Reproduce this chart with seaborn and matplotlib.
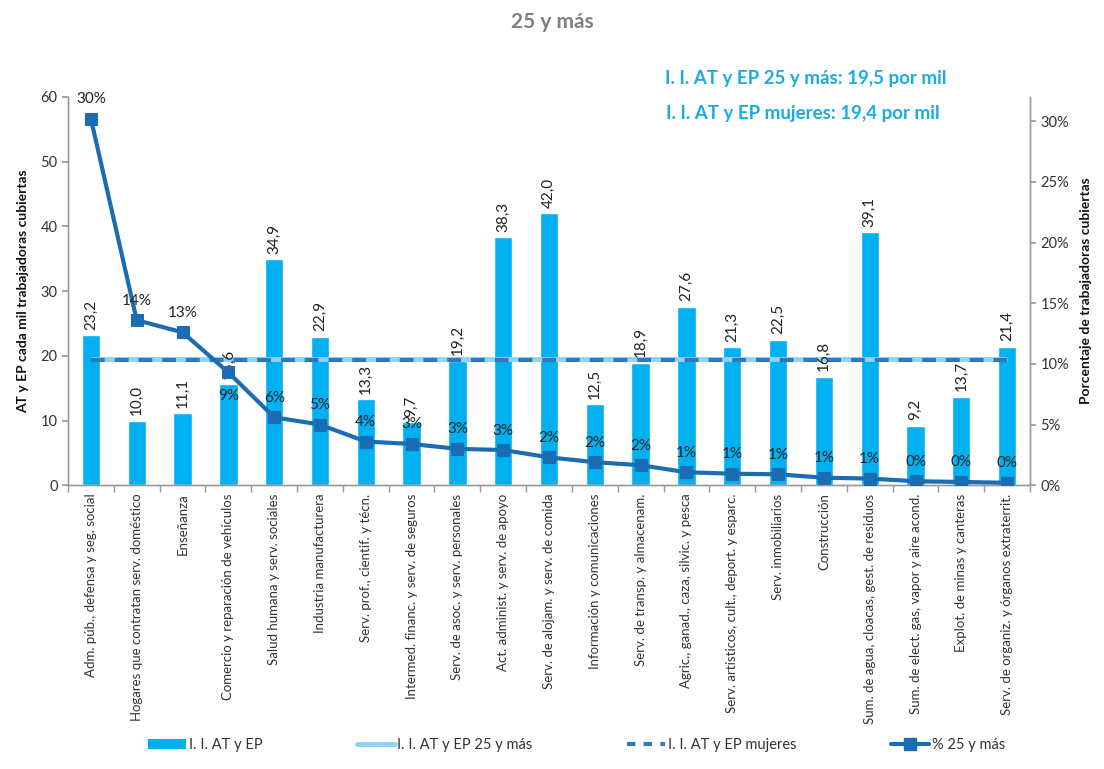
import matplotlib
import matplotlib.pyplot as plt
import numpy as np
import pandas as pd
import seaborn as sns
from matplotlib.lines import Line2D
from matplotlib.patches import Patch
from matplotlib.ticker import FixedLocator, FuncFormatter

matplotlib.use("Agg")
sns.set_theme(style="white")
plt.rcParams["font.family"] = ["Lato", "DejaVu Sans"]

CATEGORIES = [
    "Adm. púb., defensa y seg. social",
    "Hogares que contratan serv. doméstico",
    "Enseñanza",
    "Comercio y reparación de vehículos",
    "Salud humana y serv. sociales",
    "Industria manufacturera",
    "Serv. prof., cientif. y técn.",
    "Intermed. financ. y serv. de seguros",
    "Serv. de asoc. y serv. personales",
    "Act. administ. y serv. de apoyo",
    "Serv. de alojam. y serv. de comida",
    "Información y comunicaciones",
    "Serv. de transp. y almacenam.",
    "Agric., ganad., caza, silvic. y pesca",
    "Serv. artísticos, cult., deport. y esparc.",
    "Serv. inmobiliarios",
    "Construcción",
    "Sum. de agua, cloacas, gest. de residuos",
    "Sum. de elect. gas, vapor y aire acond.",
    "Explot. de minas y canteras",
    "Serv. de organiz. y órganos extraterrit.",
]
INDICE = [23.2, 10.0, 11.1, 15.6, 34.9, 22.9, 13.3, 9.7, 19.2, 38.3, 42.0,
          12.5, 18.9, 27.6, 21.3, 22.5, 16.8, 39.1, 9.2, 13.7, 21.4]
PORCENTAJE = [0.302, 0.136, 0.126, 0.093, 0.056, 0.050, 0.036, 0.034, 0.030,
              0.029, 0.023, 0.019, 0.0165, 0.0107, 0.0095, 0.009, 0.0062,
              0.0055, 0.0033, 0.0027, 0.002]
PROMEDIO_25 = 19.5
PROMEDIO_MUJERES = 19.4

BAR_COLOR = "#00B0F0"
LIGHT_LINE = "#8FD3F2"
DASH_LINE = "#2E78BE"
PCT_LINE = "#1A6DB3"
NOTE_COLOR = "#19ACE3"

df = pd.DataFrame({"categoria": CATEGORIES, "indice": INDICE, "pct": PORCENTAJE})
df["pos"] = np.arange(len(df))
n = len(df)

fig, ax = plt.subplots(figsize=(11.04, 7.69), dpi=100)
fig.subplots_adjust(left=0.0616, right=0.933, top=0.874, bottom=0.369)

sns.barplot(data=df, x="categoria", y="indice", color=BAR_COLOR, width=0.4,
            saturation=1, ax=ax, zorder=2)
ax.hlines(PROMEDIO_25, 0, n - 1, color=LIGHT_LINE, lw=3.5, zorder=3)
ax.hlines(PROMEDIO_MUJERES, 0, n - 1, color=DASH_LINE, lw=3,
          linestyles=(0, (3.3, 2.4)), zorder=4)

for p, v in zip(ax.patches, df["indice"]):
    ax.annotate(f"{v:.1f}".replace(".", ","),
                (p.get_x() + p.get_width() / 2, p.get_height()),
                xytext=(0, 4), textcoords="offset points", rotation=90,
                ha="center", va="bottom", fontsize=11, color="#222222",
                zorder=6)

ax.set_ylim(0, 60)
ax.set_xlim(-0.5, n - 0.5)
ax.set_yticks(range(0, 61, 10))
ax.set_ylabel("AT y EP cada mil trabajadoras cubiertas", fontsize=10,
              fontweight="bold", color="#111111", labelpad=8)
ax.set_xlabel("")
ax.set_xticks(df["pos"])
ax.set_xticklabels(df["categoria"], rotation=90, fontsize=9.5, va="top",
                   ha="center", color="#333333")
ax.xaxis.set_minor_locator(FixedLocator(np.arange(-0.5, n, 1.0)))
ax.tick_params(axis="x", which="major", length=0, pad=6)
ax.tick_params(axis="x", which="minor", length=5, color="#999999",
               bottom=True)
ax.tick_params(axis="y", length=4, color="#999999", left=True,
               labelsize=10.5, labelcolor="#333333")

ax2 = ax.twinx()
sns.lineplot(data=df, x="pos", y="pct", ax=ax2, color=PCT_LINE, lw=3,
             marker="s", markersize=8, markeredgecolor=PCT_LINE, zorder=5)
ax2.set_ylim(0, 0.32)
ax2.set_yticks(np.arange(0, 0.31, 0.05))
ax2.yaxis.set_major_formatter(FuncFormatter(lambda v, _: f"{v * 100:.0f}%"))
ax2.tick_params(axis="y", length=4, color="#999999", right=True,
                labelsize=10.5, labelcolor="#333333")
ax2.set_ylabel("Porcentaje de trabajadoras cubiertas", fontsize=10,
               fontweight="bold", color="#111111", labelpad=8)
ax2.set_xlabel("")

for i, (x, v) in enumerate(zip(df["pos"], df["pct"])):
    below = i == 3
    ax2.annotate(f"{v * 100:.0f}%", (x, v),
                 xytext=(0, -12 if below else 9), textcoords="offset points",
                 ha="center", va="top" if below else "bottom", fontsize=11,
                 color="#222222", zorder=7)

for a in (ax, ax2):
    for side in ("left", "right", "bottom"):
        a.spines[side].set_color("#999999")
        a.spines[side].set_linewidth(1)
    a.spines["top"].set_visible(False)

fig.text(0.5, 0.972, "25 y más", ha="center", va="center", fontsize=15,
         fontweight="bold", color="#7F7F7F")
fig.text(0.73, 0.898, "I. I. AT y EP 25 y más: 19,5 por mil", ha="center",
         va="center", fontsize=13.5, fontweight="bold", color=NOTE_COLOR)
fig.text(0.727, 0.853, "I. I. AT y EP mujeres: 19,4 por mil", ha="center",
         va="center", fontsize=13.5, fontweight="bold", color=NOTE_COLOR)

handles = [
    Patch(facecolor=BAR_COLOR, edgecolor="none"),
    Line2D([], [], color=LIGHT_LINE, lw=3.5),
    Line2D([], [], color=DASH_LINE, lw=3, ls=(0, (2, 2))),
    Line2D([], [], color=PCT_LINE, lw=3, marker="s", markersize=8),
]
labels = ["I. I. AT y EP", "I. I. AT y EP 25 y más", "I. I. AT y EP mujeres",
          "% 25 y más"]
fig.legend(handles, labels, loc="lower left", ncol=4, mode="expand",
           bbox_to_anchor=(0.122, 0.005, 0.8, 0.035), frameon=False,
           fontsize=10.5, handlelength=2.6, handletextpad=0.2,
           labelcolor="#333333")

fig.savefig("out.png", dpi=100)
